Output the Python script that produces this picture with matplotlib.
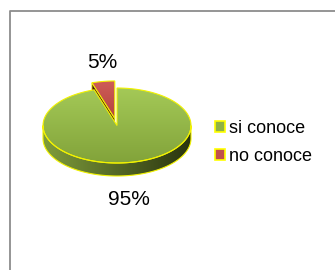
import numpy as np
import matplotlib
matplotlib.use('Agg')
from matplotlib import pyplot as plt
from matplotlib.patches import Polygon, Patch
from matplotlib.colors import LinearSegmentedColormap

plt.rcParams['font.family'] = ['Liberation Sans', 'DejaVu Sans']

# data
labels = ['si conoce', 'no conoce']
values = [95, 5]
explode = [0.0, 0.19]

# colours (top face light/dark, wall, legend)
top_light = ['#a4c957', '#cf5d58']
top_dark = ['#82a33a', '#b4443f']
wall_light = ['#7f9d3c', '#6a2422']
wall_dark = ['#2a340f', '#4a1513']
legend_col = ['#8fb245', '#c0504d']
edge = '#f2f200'

# pie geometry in pixels
cx, cy = 117, 125.5
rx, ry = 74, 37.5
depth = 13

fig = plt.figure(figsize=(3.35, 2.70), dpi=100)
ax = fig.add_axes([0, 0, 1, 1])
ax.set_xlim(0, 335)
ax.set_ylim(270, 0)
ax.set_autoscale_on(False)
ax.axis('off')


def arc(t0, t1, dx=0, dy=0, n=120):
    # angles clockwise from 12 o'clock
    t = np.radians(np.linspace(t0, t1, n))
    return np.column_stack([cx + dx + rx * np.sin(t), cy + dy - ry * np.cos(t)])


def grad_fill(poly, c0, c1, horizontal=False):
    cmap = LinearSegmentedColormap.from_list('g', [c0, c1])
    g = np.linspace(0, 1, 256)
    img = g[np.newaxis, :] if horizontal else g[:, np.newaxis]
    x0, y0 = poly.min(axis=0)
    x1, y1 = poly.max(axis=0)
    im = ax.imshow(img, cmap=cmap, extent=(x0, x1, y1, y0), origin='upper',
                   aspect='auto', interpolation='bilinear', zorder=2)
    p = Polygon(poly, closed=True, facecolor='none', edgecolor=edge, lw=0.8, zorder=3)
    ax.add_patch(p)
    im.set_clip_path(p)


total = float(sum(values))
angles = [0]
for v in values:
    angles.append(angles[-1] + 360.0 * v / total)

# draw the back slices first (the small exploded one)
order = [1, 0]
for i in order:
    a0, a1 = angles[i], angles[i + 1]
    mid = np.radians((a0 + a1) / 2)
    dx = rx * explode[i] * np.sin(mid)
    dy = -ry * explode[i] * np.cos(mid)
    top = np.vstack([[cx + dx, cy + dy], arc(a0, a1, dx, dy)])

    # radial wall on the start edge
    p0 = np.array([cx + dx, cy + dy])
    p1 = arc(a0, a0, dx, dy, 1)[0]
    if explode[i] > 0:
        wall = np.array([p0, p1, p1 + [0, depth], p0 + [0, depth]])
        ax.add_patch(Polygon(wall, closed=True, facecolor=wall_dark[i],
                             edgecolor=edge, lw=0.6, zorder=2))

    # outer side wall, front half only
    s0, s1 = max(a0, 90), min(a1, 270)
    if s1 > s0:
        up = arc(s0, s1, dx, dy)
        side = np.vstack([up, (up + [0, depth])[::-1]])
        grad_fill(side, wall_light[i], wall_dark[i], horizontal=True)

    grad_fill(top, top_light[i], top_dark[i])

# percentage labels
for i, v in enumerate(values):
    a0, a1 = angles[i], angles[i + 1]
    mid = np.radians((a0 + a1) / 2)
    dx = rx * explode[i] * np.sin(mid)
    dy = -ry * explode[i] * np.cos(mid)
    lx = cx + dx + rx * 1.05 * np.sin(mid)
    ly = cy + dy - ry * 1.5 * np.cos(mid)
    if np.cos(mid) < 0:
        ly += depth + 5
    ax.text(lx, ly, '%d%%' % round(100 * v / total), ha='center', va='center',
            fontsize=15, color='black')

handles = [Patch(facecolor=legend_col[i], edgecolor='#ffff00', lw=1.2) for i in range(len(labels))]
ax.legend(handles, labels, loc='upper left', bbox_to_anchor=(215 / 335.0, 1 - 120 / 270.0),
          frameon=False, fontsize=13, handlelength=0.55, handleheight=0.55,
          handletextpad=0.2, labelspacing=0.6, borderpad=0, borderaxespad=0)

# chart frame
ax.plot([10, 10, 335], [270, 11, 11], color='#8c8c8c', lw=1.3, solid_capstyle='butt')

fig.savefig('out.png', dpi=100)
